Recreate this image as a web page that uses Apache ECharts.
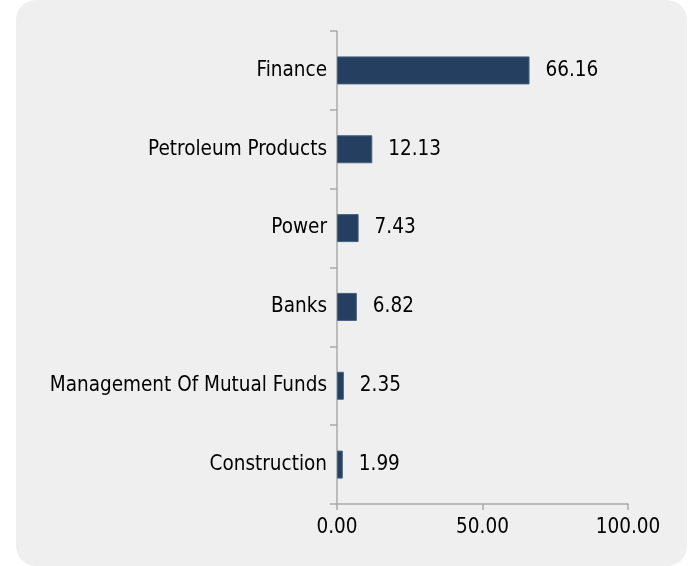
<!DOCTYPE html>
<html>
<head>
<meta charset="utf-8">
<script src="https://cdn.jsdelivr.net/npm/echarts@6/dist/echarts.min.js"></script>
<style>
  html, body { margin: 0; padding: 0; background: #ffffff; }
  #chart { width: 689px; height: 566px; }
</style>
</head>
<body>
<div id="chart"></div>
<script>
// chart data
const sectors = ['Finance', 'Petroleum Products', 'Power', 'Banks', 'Management Of Mutual Funds', 'Construction'];
const weights = [66.16, 12.13, 7.43, 6.82, 2.35, 1.99];
const xTicks = [0, 50, 100];

const font = 'DejaVu Sans Condensed';
const axisGray = '#aaaaaa';

const chart = echarts.init(document.getElementById('chart'));

chart.setOption({
    animation: false,
    backgroundColor: '#ffffff',
    graphic: [
        {
            type: 'rect',
            z: -10,
            shape: { x: 16, y: 0, width: 671, height: 566, r: 20 },
            style: { fill: '#efefef' }
        }
    ],
    grid: { left: 337, right: 61, top: 31, bottom: 62 },
    xAxis: {
        type: 'value',
        min: xTicks[0],
        max: xTicks[xTicks.length - 1],
        interval: xTicks[1] - xTicks[0],
        axisLine: { show: true, lineStyle: { color: axisGray, width: 1.5 } },
        axisTick: { show: true, length: 6, lineStyle: { color: axisGray, width: 1.5 } },
        splitLine: { show: false },
        axisLabel: {
            margin: 13,
            color: '#000',
            fontFamily: font,
            fontSize: 20.5,
            formatter: v => v.toFixed(2)
        }
    },
    yAxis: {
        type: 'category',
        inverse: true,
        data: sectors,
        axisLine: { show: true, lineStyle: { color: axisGray, width: 1.5 } },
        axisTick: { show: true, length: 7, lineStyle: { color: axisGray, width: 1.5 } },
        axisLabel: {
            margin: 10,
            color: '#000',
            fontFamily: font,
            fontSize: 20.5
        }
    },
    series: [
        {
            type: 'bar',
            data: weights,
            barWidth: 28,
            itemStyle: { color: '#243f5f', borderColor: '#45617f', borderWidth: 1 },
            label: {
                show: true,
                position: 'right',
                distance: 16,
                color: '#000',
                fontFamily: font,
                fontSize: 20.5,
                formatter: p => p.value.toFixed(2)
            }
        }
    ]
});
</script>
</body>
</html>
